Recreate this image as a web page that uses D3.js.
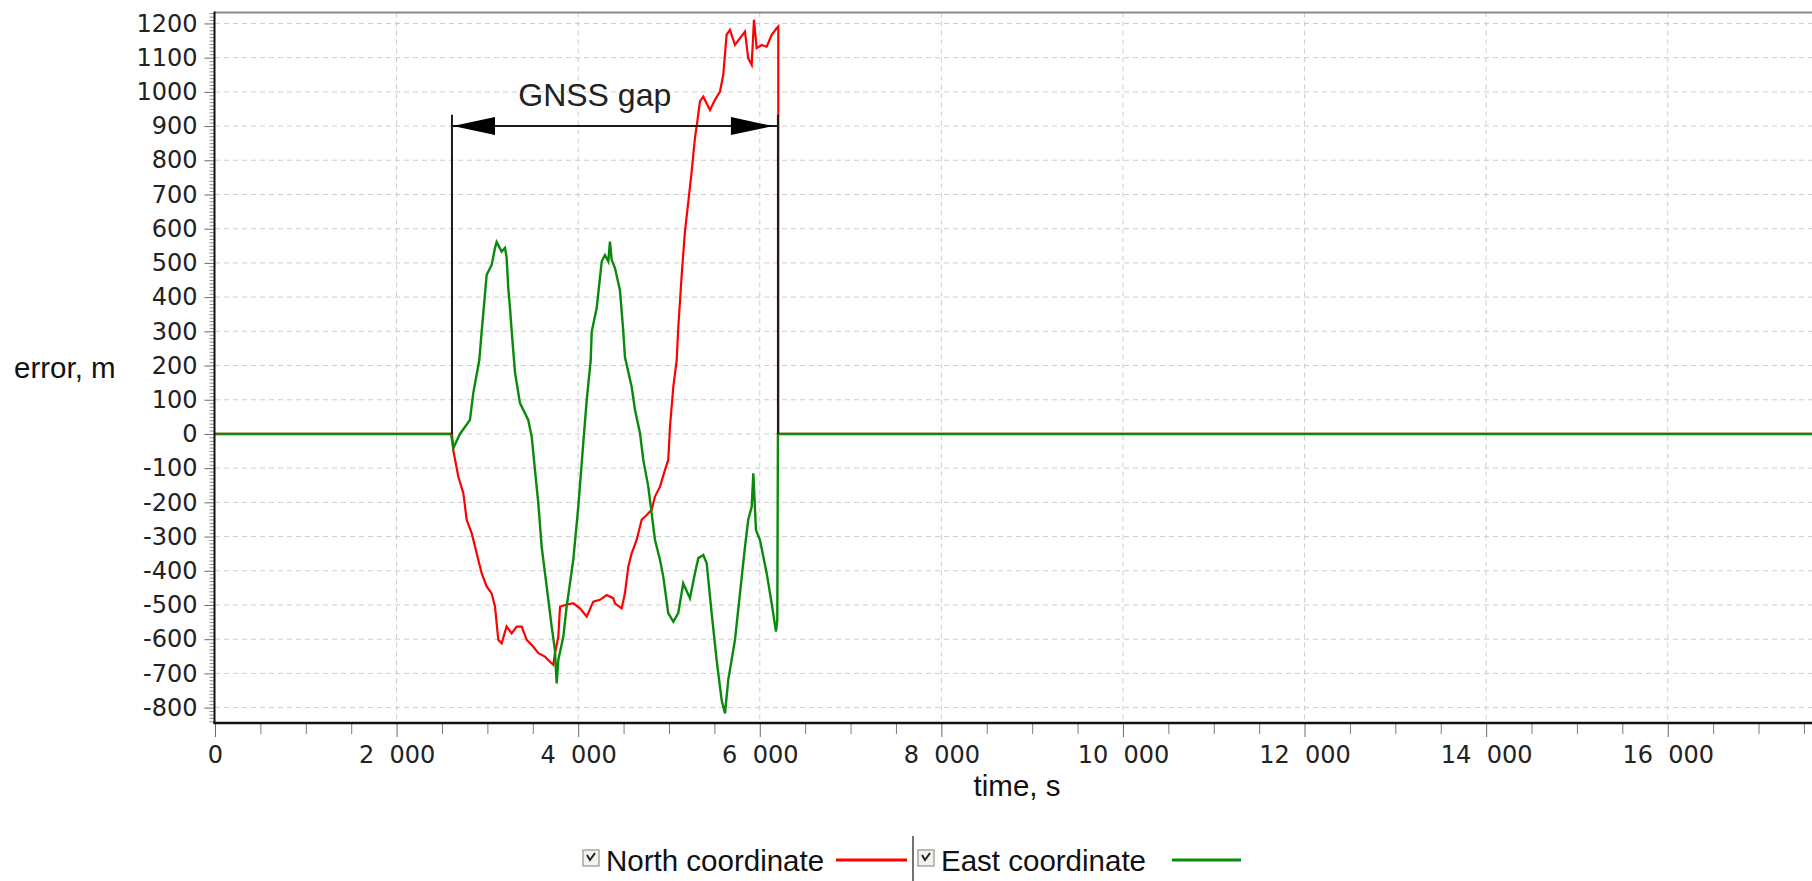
<!DOCTYPE html>
<html>
<head>
<meta charset="utf-8">
<script src="https://cdn.jsdelivr.net/npm/d3@7/dist/d3.min.js"></script>
<style>
  body { margin: 0; background: #fff; }
</style>
</head>
<body>
<div id="container-chart"></div>
<script>

// error traces, [time s, error m]
var northSeries = [
  [0,0],[2610,0],[2624,-47],[2680,-125],[2735,-173],[2772,-251],[2827,-290],[2882,-349],
  [2937,-407],[2992,-446],[3047,-466],[3084,-505],[3120,-602],[3157,-612],[3212,-563],
  [3268,-583],[3323,-563],[3378,-563],[3433,-602],[3506,-622],[3561,-641],[3634,-651],
  [3689,-666],[3726,-675],[3744,-641],[3781,-593],[3800,-505],[3855,-500],[3946,-495],
  [4020,-510],[4094,-534],[4166,-490],[4240,-485],[4314,-471],[4386,-480],[4405,-495],
  [4479,-510],[4515,-466],[4552,-388],[4589,-349],[4644,-310],[4699,-251],[4754,-237],
  [4809,-222],[4846,-183],[4901,-154],[4956,-105],[4992,-76],[5011,21],[5048,138],
  [5085,216],[5102,309],[5140,465],[5176,592],[5213,679],[5250,767],[5286,865],
  [5312,913],[5341,972],[5378,986],[5452,947],[5507,977],[5562,1001],[5598,1050],
  [5635,1167],[5672,1181],[5727,1137],[5782,1157],[5837,1176],[5873,1098],[5911,1079],
  [5936,1211],[5966,1128],[6021,1137],[6076,1132],[6131,1167],[6186,1186],[6204,1191],
  [6204,0],[17600,0]
];

var eastSeries = [
  [0,0],[2600,0],[2625,-41],[2698,0],[2808,41],[2845,120],[2911,216],[2937,299],
  [2992,465],[3047,494],[3084,544],[3102,561],[3157,533],[3194,544],[3212,515],
  [3230,427],[3249,368],[3268,299],[3304,180],[3359,90],[3450,41],[3488,-8],
  [3524,-105],[3561,-203],[3598,-330],[3653,-446],[3708,-563],[3744,-632],[3763,-729],
  [3781,-661],[3836,-593],[3873,-505],[3946,-368],[4001,-213],[4056,-27],[4094,99],
  [4138,216],[4149,299],[4204,368],[4259,504],[4295,523],[4332,504],[4350,562],
  [4369,509],[4405,485],[4460,420],[4497,299],[4515,225],[4589,138],[4626,70],
  [4681,2],[4717,-76],[4772,-154],[4809,-232],[4846,-310],[4901,-368],[4937,-417],
  [4992,-524],[5048,-549],[5102,-524],[5157,-437],[5231,-480],[5286,-407],[5323,-363],
  [5378,-354],[5415,-378],[5470,-524],[5525,-661],[5580,-778],[5617,-817],[5653,-719],
  [5727,-602],[5782,-466],[5837,-330],[5873,-251],[5911,-213],[5929,-115],[5958,-281],
  [6002,-310],[6076,-407],[6131,-495],[6178,-578],[6193,-544],[6200,0],[17600,0]
];

var xTickValues = [0, 2000, 4000, 6000, 8000, 10000, 12000, 14000, 16000];
var yTickValues = [-800,-700,-600,-500,-400,-300,-200,-100,0,100,200,300,400,500,600,700,800,900,1000,1100,1200];
var xDomain = [0, 17600];
var yDomain = [-845, 1232];

var seriesNames = ["North coordinate", "East coordinate"];
var seriesColors = ["#ff0000", "#0a8a0a"];

// GNSS gap annotation
var gapStart = 2610, gapEnd = 6200, gapArrowLevel = 900, gapTopLevel = 933;
var gapLabel = "GNSS gap", gapLabelTime = 3340, gapLabelLevel = 960;

var width = 1812, height = 881;
var plotLeft = 215, plotTop = 12.5, plotBottom = 723;

var svg = d3.select("#container-chart")
            .append("svg")
            .attr("width", width)
            .attr("height", height);

var x = d3.scaleLinear()
          .domain(xDomain)
          .range([plotLeft, 1813]);

var y = d3.scaleLinear()
          .domain(yDomain)
          .range([plotBottom, plotTop]);

function xLabel(d){
  if(d < 1000){
    return d;
  }
  return Math.floor(d/1000) + "\u00a0\u00a0000";
}

function yLabel(d){
  return d < 0 ? "-" + Math.abs(d) : "" + d;
}

// grid
var grid = svg.append("g");

grid.selectAll("line.h")
  .data(yTickValues)
  .enter()
  .append("line")
  .attr("class", "h")
  .attr("x1", plotLeft)
  .attr("x2", width)
  .attr("y1", function(d){ return y(d); })
  .attr("y2", function(d){ return y(d); })
  .style("stroke", "#cdcdcd")
  .style("stroke-dasharray", "5,4");

grid.selectAll("line.v")
  .data(xTickValues.filter(function(d){ return d > 0; }))
  .enter()
  .append("line")
  .attr("class", "v")
  .attr("x1", function(d){ return x(d); })
  .attr("x2", function(d){ return x(d); })
  .attr("y1", plotTop)
  .attr("y2", plotBottom)
  .style("stroke", "#cdcdcd")
  .style("stroke-dasharray", "5,4");

// minor ticks
var yMinor = d3.range(-840, 1231, 10).filter(function(d){ return d % 100 != 0; });
var xMinor = d3.range(500, 17600, 500).filter(function(d){ return d % 2000 != 0; });

svg.append("g")
  .attr("transform", "translate(" + (plotLeft - 0.5) + ",0)")
  .call(d3.axisLeft(y).tickValues(yMinor).tickSize(5).tickFormat(""))
  .call(function(g){ g.select(".domain").remove(); })
  .selectAll("line").style("stroke", "#8c8c8c");

svg.append("g")
  .attr("transform", "translate(0," + plotBottom + ")")
  .call(d3.axisBottom(x).tickValues(xMinor).tickSize(11).tickFormat(""))
  .call(function(g){ g.select(".domain").remove(); })
  .selectAll("line").style("stroke", "#7a7a7a");

// major ticks and labels
var yAxis = svg.append("g")
  .attr("transform", "translate(" + (plotLeft - 0.5) + ",0)")
  .call(d3.axisLeft(y).tickValues(yTickValues).tickSize(10).tickPadding(7).tickFormat(yLabel));
yAxis.select(".domain").remove();
yAxis.selectAll("line").style("stroke", "#6a6a6a");
yAxis.selectAll("text")
  .attr("font-family", "DejaVu Sans")
  .attr("font-size", "24px")
  .style("fill", "#222");

var xAxis = svg.append("g")
  .attr("transform", "translate(0," + plotBottom + ")")
  .call(d3.axisBottom(x).tickValues(xTickValues).tickSize(14).tickPadding(9).tickFormat(xLabel));
xAxis.select(".domain").remove();
xAxis.selectAll("line").style("stroke", "#6a6a6a");
xAxis.selectAll("text")
  .attr("font-family", "DejaVu Sans")
  .attr("font-size", "24px")
  .style("fill", "#222");

// frame
svg.append("line")
  .attr("x1", plotLeft - 1)
  .attr("x2", width)
  .attr("y1", plotTop)
  .attr("y2", plotTop)
  .style("stroke", "#8a8a8a")
  .style("stroke-width", 2);

// series
var line = d3.line()
  .x(function(d){ return x(d[0]); })
  .y(function(d){ return y(d[1]); });

svg.append("path")
  .datum(northSeries)
  .attr("d", line)
  .style("fill", "none")
  .style("stroke", seriesColors[0])
  .style("stroke-width", 2.2);

svg.append("path")
  .datum(eastSeries)
  .attr("d", line)
  .style("fill", "none")
  .style("stroke", seriesColors[1])
  .style("stroke-width", 2.4);

svg.append("line")
  .attr("x1", plotLeft - 0.5)
  .attr("x2", plotLeft - 0.5)
  .attr("y1", plotTop - 1)
  .attr("y2", plotBottom + 1)
  .style("stroke", "#111")
  .style("stroke-width", 2);

svg.append("line")
  .attr("x1", plotLeft - 1.5)
  .attr("x2", width)
  .attr("y1", plotBottom)
  .attr("y2", plotBottom)
  .style("stroke", "#111")
  .style("stroke-width", 2.5);

// gap annotation
var note = svg.append("g");

note.selectAll("line.edge")
  .data([gapStart, gapEnd])
  .enter()
  .append("line")
  .attr("class", "edge")
  .attr("x1", function(d){ return x(d); })
  .attr("x2", function(d){ return x(d); })
  .attr("y1", y(0))
  .attr("y2", y(gapTopLevel))
  .style("stroke", "#1a1a1a")
  .style("stroke-width", 2);

note.append("line")
  .attr("x1", x(gapStart))
  .attr("x2", x(gapEnd))
  .attr("y1", y(gapArrowLevel))
  .attr("y2", y(gapArrowLevel))
  .style("stroke", "#1a1a1a")
  .style("stroke-width", 2);

var ay = y(gapArrowLevel);
var ax0 = x(gapStart) + 1, ax1 = x(gapEnd) - 5;
note.append("path")
  .attr("d", "M" + ax0 + "," + ay + "L" + (ax0 + 42) + "," + (ay - 9) + "L" + (ax0 + 42) + "," + (ay + 9) + "Z")
  .style("fill", "#000");
note.append("path")
  .attr("d", "M" + ax1 + "," + ay + "L" + (ax1 - 42) + "," + (ay - 9) + "L" + (ax1 - 42) + "," + (ay + 9) + "Z")
  .style("fill", "#000");

note.append("text")
  .attr("x", x(gapLabelTime))
  .attr("y", y(gapLabelLevel))
  .attr("font-family", "Liberation Sans, Arial")
  .attr("font-size", "32px")
  .style("fill", "#222")
  .text(gapLabel);

// axis titles
svg.append("text")
  .attr("x", 14)
  .attr("y", 378)
  .attr("font-family", "Liberation Sans, Arial")
  .attr("font-size", "29.5px")
  .style("fill", "#111")
  .text("error, m");

svg.append("text")
  .attr("x", 1017)
  .attr("y", 796)
  .attr("text-anchor", "middle")
  .attr("font-family", "Liberation Sans, Arial")
  .attr("font-size", "29.5px")
  .style("fill", "#111")
  .text("time, s");

// legend
var legendX = [583, 918];
var legend = svg.append("g");

legend.selectAll("rect")
  .data(seriesNames)
  .enter()
  .append("rect")
  .attr("x", function(d,i){ return legendX[i]; })
  .attr("y", 850)
  .attr("width", 16)
  .attr("height", 16)
  .style("fill", "#f2f2ee")
  .style("stroke", "#a8a8a0")
  .style("stroke-width", 1.5);

legend.selectAll("path.check")
  .data(seriesNames)
  .enter()
  .append("path")
  .attr("class", "check")
  .attr("d", function(d,i){
    var bx = legendX[i];
    return "M" + (bx + 4) + ",855L" + (bx + 7) + ",860L" + (bx + 12) + ",853";
  })
  .style("fill", "none")
  .style("stroke", "#222")
  .style("stroke-width", 2);

legend.selectAll("text")
  .data(seriesNames)
  .enter()
  .append("text")
  .attr("x", function(d,i){ return legendX[i] + 23; })
  .attr("y", 871)
  .attr("font-family", "Liberation Sans, Arial")
  .attr("font-size", "29.5px")
  .style("fill", "#111")
  .text(function(d){ return d; });

legend.selectAll("line.key")
  .data(seriesColors)
  .enter()
  .append("line")
  .attr("class", "key")
  .attr("x1", function(d,i){ return i ? 1172 : 836; })
  .attr("x2", function(d,i){ return i ? 1241 : 907; })
  .attr("y1", 860)
  .attr("y2", 860)
  .style("stroke", function(d){ return d; })
  .style("stroke-width", 3);

legend.append("line")
  .attr("x1", 913)
  .attr("x2", 913)
  .attr("y1", 836)
  .attr("y2", 881)
  .style("stroke", "#444")
  .style("stroke-width", 1.5);

</script>
</body>
</html>
